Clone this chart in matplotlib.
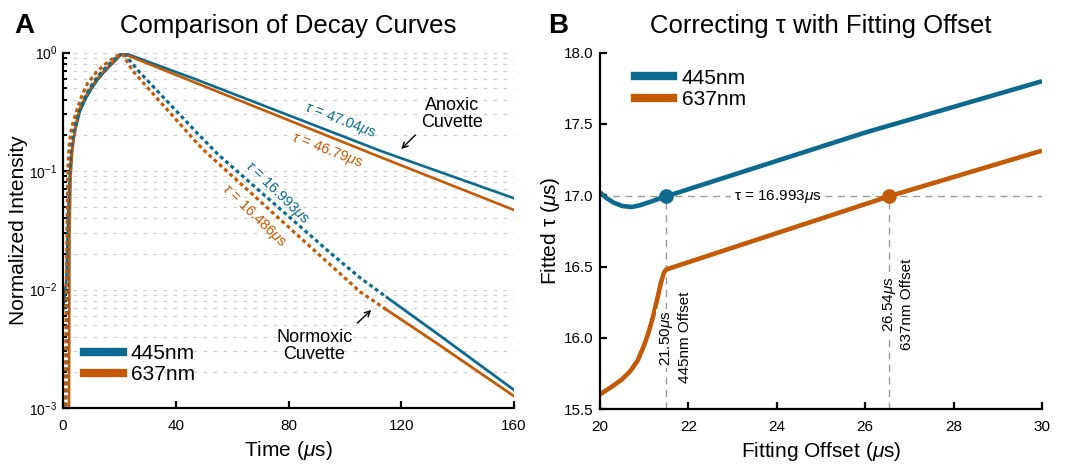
#!/usr/bin/env python3
"""
Two-panel figure: (A) normalized decay curves for anoxic / normoxic cuvettes,
(B) fitted lifetime vs. fitting offset. Output: out.png
"""

import matplotlib

matplotlib.use("Agg")
import matplotlib.pyplot as plt
from matplotlib.lines import Line2D
from matplotlib.ticker import FormatStrFormatter

BLUE = "#0c6a8e"
ORANGE = "#c25a06"

# --- panel A data (time in us, normalized intensity) ---
anox_445_t = [0.0, 1.2, 1.8, 2.3, 2.8, 3.5, 4.6, 6.0, 8.1, 10.0, 12.3, 14.5, 17.0, 19.3, 21.3, 47.1, 112.6, 160.0]
anox_445_y = [0.0068, 0.012, 0.04, 0.085, 0.125, 0.175, 0.235, 0.32, 0.41, 0.49, 0.59, 0.68, 0.785, 0.89, 1.0,
              0.594, 0.148, 0.0589]

anox_637_t = [2.1, 2.3, 2.7, 3.2, 3.8, 4.6, 6.0, 8.1, 10.0, 12.3, 14.5, 17.0, 19.0, 21.0, 112.6, 160.0]
anox_637_y = [0.0009, 0.03, 0.09, 0.14, 0.19, 0.25, 0.34, 0.43, 0.51, 0.61, 0.70, 0.80, 0.89, 0.985, 0.131, 0.0469]

norm_445_t = [1.0, 1.3, 1.7, 2.2, 2.8, 3.6, 4.5, 6.4, 8.4, 10.5, 13.5, 17.0, 19.2, 21.3, 27.0, 47.1, 55.2,
              94.9, 105.5, 115.0]
norm_445_y = [0.0009, 0.004, 0.03, 0.09, 0.15, 0.21, 0.26, 0.35, 0.45, 0.55, 0.68, 0.83, 0.92, 1.0, 0.689,
              0.215, 0.1365, 0.0203, 0.0125, 0.00855]
norm_445_tail_t = [115.0, 132.6, 160.0]
norm_445_tail_y = [0.00855, 0.00427, 0.00142]

norm_637_t = [0.8, 1.1, 1.4, 1.7, 2.1, 3.0, 4.6, 6.5, 8.7, 12.0, 15.8, 18.5, 21.0, 24.7, 47.1, 49.9, 94.9,
              105.5, 115.0]
norm_637_y = [0.0009, 0.006, 0.03, 0.1, 0.16, 0.23, 0.31, 0.42, 0.55, 0.69, 0.83, 0.92, 0.98, 0.70, 0.1766,
              0.150, 0.0161, 0.00953, 0.0067]
norm_637_tail_t = [115.0, 132.6, 160.0]
norm_637_tail_y = [0.0067, 0.00352, 0.00126]

# --- panel B data (fitting offset in us, fitted tau in us) ---
fit_445_x = [20.0, 20.15, 20.3, 20.5, 20.72, 20.9, 21.1, 21.3, 21.5, 26.0, 30.0]
fit_445_tau = [17.02, 16.98, 16.95, 16.925, 16.918, 16.93, 16.95, 16.972, 16.993, 17.44, 17.80]

fit_637_x = [20.0, 20.3, 20.5, 20.68, 20.85, 21.0, 21.1, 21.2, 21.3, 21.38, 21.45, 21.5, 26.54, 30.0]
fit_637_tau = [15.604, 15.665, 15.71, 15.765, 15.84, 15.95, 16.04, 16.15, 16.28, 16.39, 16.46, 16.48,
               16.993, 17.313]

tau_target = 16.993
offset_445 = 21.50
offset_637 = 26.54

plt.rcParams.update({
    "font.family": ["Liberation Sans", "DejaVu Sans"],
    "mathtext.fontset": "custom",
    "mathtext.rm": "Liberation Sans",
    "mathtext.it": "Liberation Sans:italic",
    "mathtext.bf": "Liberation Sans:bold",
    "axes.linewidth": 1.6,
})


def style_axes(ax):
    for side in ("top", "right"):
        ax.spines[side].set_visible(False)
    ax.tick_params(which="major", direction="in", length=5, width=1.6, labelsize=11)
    ax.tick_params(which="minor", direction="in", length=3, width=1.4)


fig = plt.figure(figsize=(10.65, 4.73), dpi=100)
axA = fig.add_axes([0.0592, 0.1374, 0.4234, 0.7516])
axB = fig.add_axes([0.5634, 0.1349, 0.4150, 0.7537])

# ---------------- panel A ----------------
axA.set_yscale("log")
axA.plot(anox_445_t, anox_445_y, color=BLUE, lw=1.9)
axA.plot(anox_637_t, anox_637_y, color=ORANGE, lw=1.9)
axA.plot(norm_445_t, norm_445_y, color=BLUE, lw=2.3, ls=(0, (1.2, 1.0)))
axA.plot(norm_637_t, norm_637_y, color=ORANGE, lw=2.3, ls=(0, (1.2, 1.0)))
axA.plot(norm_445_tail_t, norm_445_tail_y, color=BLUE, lw=2.0)
axA.plot(norm_637_tail_t, norm_637_tail_y, color=ORANGE, lw=2.0)

axA.set_xlim(0, 160)
axA.set_ylim(1e-3, 1)
axA.set_xticks([0, 40, 80, 120, 160])
style_axes(axA)
axA.tick_params(axis="x", pad=8)
axA.tick_params(axis="y", pad=4, labelsize=10)
axA.yaxis.grid(True, which="both", color="#d0d0d0", lw=0.9, ls=(0, (3, 5)))
axA.set_axisbelow(True)

axA.set_xlabel(r"Time ($\mu$s)", fontsize=15)
axA.set_ylabel("Normalized Intensity", fontsize=15)
axA.yaxis.set_label_coords(-0.078, 0.5)
axA.set_title("Comparison of Decay Curves", fontsize=18.5, pad=14)

axA.text(98.4, 0.264, r"$\tau$ = 47.04$\mu$s", color=BLUE, fontsize=10.5,
         rotation=-21, ha="center", va="center")
axA.text(93.8, 0.1475, r"$\tau$ = 46.79$\mu$s", color=ORANGE, fontsize=10.5,
         rotation=-21, ha="center", va="center")
axA.text(76.1, 0.0652, r"$\tau$ = 16.993$\mu$s", color=BLUE, fontsize=10.5,
         rotation=-44, ha="center", va="center")
axA.text(67.6, 0.0417, r"$\tau$ = 16.486$\mu$s", color=ORANGE, fontsize=10.5,
         rotation=-44, ha="center", va="center")

axA.annotate("", xy=(119.3, 0.1475), xytext=(125.7, 0.209),
             arrowprops=dict(arrowstyle="->", color="black", lw=1.0))
axA.text(138.0, 0.303, "Anoxic\nCuvette", fontsize=13, ha="center", va="center",
         linespacing=1.0)
axA.annotate("", xy=(110.1, 0.00698), xytext=(103.7, 0.00501),
             arrowprops=dict(arrowstyle="->", color="black", lw=1.0))
axA.text(89.2, 0.00334, "Normoxic\nCuvette", fontsize=13, ha="center", va="center",
         linespacing=1.0)

handles = [Line2D([], [], color=BLUE, lw=6), Line2D([], [], color=ORANGE, lw=6)]
axA.legend(handles, ["445nm", "637nm"], loc="upper left", bbox_to_anchor=(0.0466, 0.18),
           frameon=False, fontsize=15, borderpad=0, borderaxespad=0,
           handlelength=1.85, handletextpad=0.4, labelspacing=0.1)

fig.text(14 / 1065, 1 - 33 / 473, "A", fontsize=20, fontweight="bold", va="baseline")

# ---------------- panel B ----------------
axB.plot([20, 30], [tau_target, tau_target], color="#9a9a9a", lw=1.0, ls=(0, (5, 4)))
axB.plot([offset_445, offset_445], [15.5, tau_target], color="#9a9a9a", lw=1.0, ls=(0, (5, 4)))
axB.plot([offset_637, offset_637], [15.5, tau_target], color="#9a9a9a", lw=1.0, ls=(0, (5, 4)))

axB.plot(fit_445_x, fit_445_tau, color=BLUE, lw=3.3, solid_capstyle="butt")
axB.plot(fit_637_x, fit_637_tau, color=ORANGE, lw=3.3, solid_capstyle="butt")
axB.plot([offset_445], [tau_target], "o", color=BLUE, ms=9.5, zorder=5)
axB.plot([offset_637], [tau_target], "o", color=ORANGE, ms=9.5, zorder=5)

axB.set_xlim(20, 30)
axB.set_ylim(15.5, 18.0)
axB.set_xticks([20, 22, 24, 26, 28, 30])
axB.set_yticks([15.5, 16.0, 16.5, 17.0, 17.5, 18.0])
axB.yaxis.set_major_formatter(FormatStrFormatter("%.1f"))
style_axes(axB)
axB.tick_params(axis="x", pad=8)
axB.tick_params(axis="y", pad=5)

axB.set_xlabel(r"Fitting Offset ($\mu$s)", fontsize=15)
axB.set_ylabel(r"Fitted τ ($\mu$s)", fontsize=15)
axB.yaxis.set_label_coords(-0.085, 0.5)
axB.set_title("Correcting τ with Fitting Offset", fontsize=18.5, pad=14)

white = dict(facecolor="white", edgecolor="none", pad=1.5)
axB.text(24.01, tau_target, r"τ = 16.993$\mu$s", fontsize=11, ha="center", va="center",
         bbox=white)
axB.text(offset_445, 15.996, r"21.50$\mu$s", fontsize=11, rotation=90,
         ha="center", va="center", bbox=white)
axB.text(21.925, 16.003, "445nm Offset", fontsize=11, rotation=90, ha="center", va="center")
axB.text(offset_637, 16.234, r"26.54$\mu$s", fontsize=11, rotation=90,
         ha="center", va="center", bbox=white)
axB.text(26.94, 16.234, "637nm Offset", fontsize=11, rotation=90, ha="center", va="center")

axB.legend(handles, ["445nm", "637nm"], loc="upper left", bbox_to_anchor=(0.079, 0.955),
           frameon=False, fontsize=15, borderpad=0, borderaxespad=0,
           handlelength=1.85, handletextpad=0.4, labelspacing=0.1)

fig.text(548 / 1065, 1 - 33 / 473, "B", fontsize=20, fontweight="bold", va="baseline")

fig.savefig("out.png", dpi=100)
